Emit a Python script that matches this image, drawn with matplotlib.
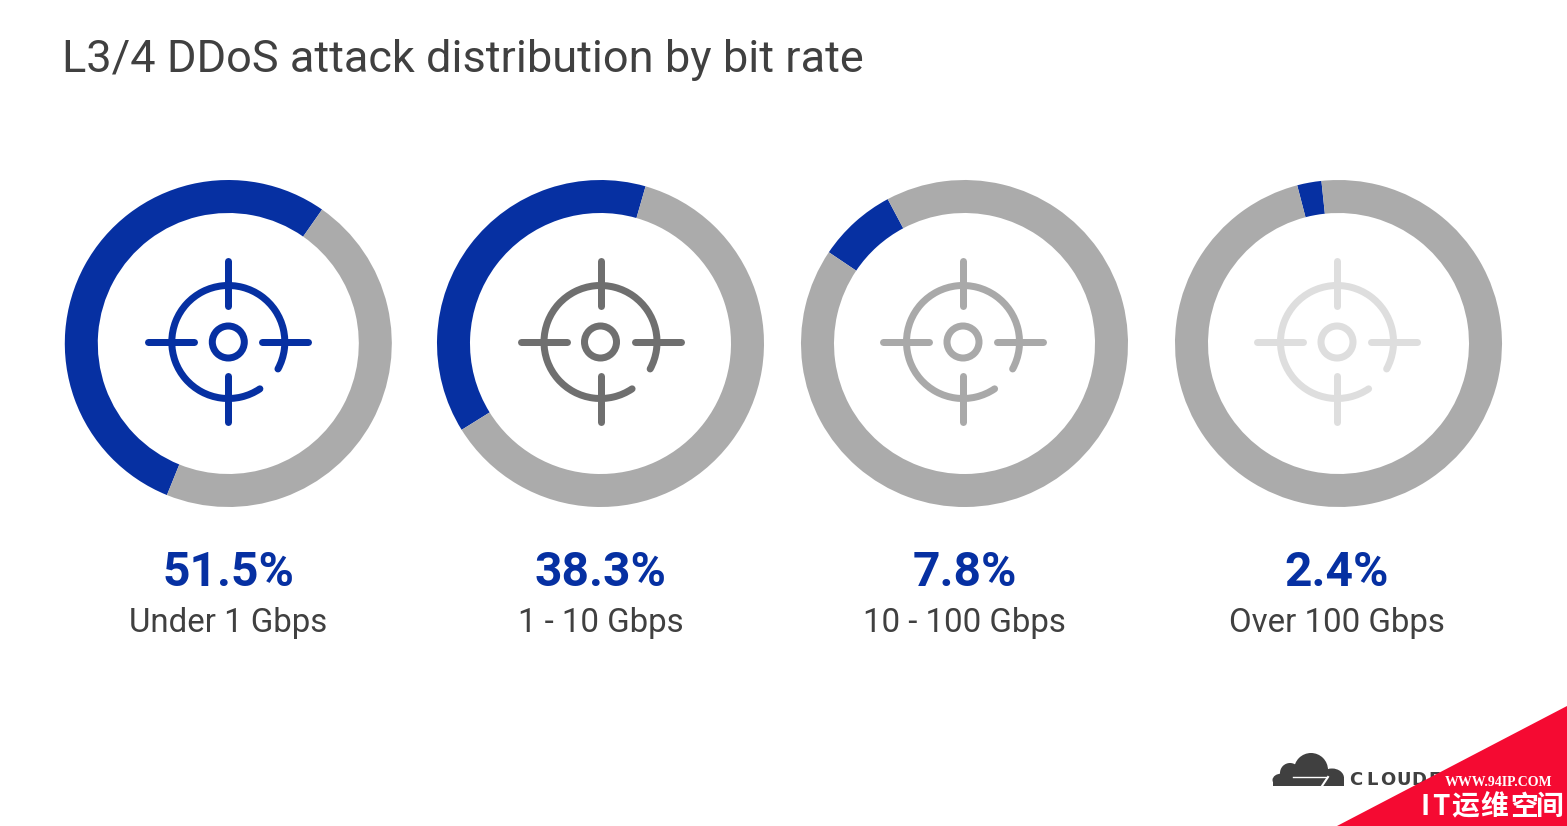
import numpy as np
import matplotlib
matplotlib.use("Agg")
import matplotlib.pyplot as plt
from matplotlib.patches import Circle, Ellipse, Polygon, Arc, Rectangle

plt.rcParams['font.family'] = ['Roboto', 'DejaVu Sans']

W, H = 1567, 826

# values
labels = ["Under 1 Gbps", "1 - 10 Gbps", "10 - 100 Gbps", "Over 100 Gbps"]
pct_text = ["51.5%", "38.3%", "7.8%", "2.4%"]
arc_share = [53.6, 38.3, 7.8, 2.4]  # the first arc is drawn a bit longer than its label
start_angle = [55, 74, 118, 96]
icon_color = ["#0630a2", "#6f6f6f", "#a9a9a9", "#dedede"]
center_x = [228.3, 600.5, 964.5, 1338.5]
icon_x = [228.3, 600.5, 963, 1337]
label_x = [228.3, 600.5, 964.5, 1337]

BLUE = "#0630a2"
GRAY = "#ababab"
TEXT = "#404040"
center_y = 343.5
R = 163.5

fig = plt.figure(figsize=(W / 100, H / 100), dpi=100, facecolor="white")

# donuts, each one in its own little axes
for i in range(4):
    cx = center_x[i]
    ax = fig.add_axes([(cx - R) / W, 1 - (center_y + R) / H, 2 * R / W, 2 * R / H])
    ax.pie([arc_share[i], 100 - arc_share[i]], colors=[BLUE, GRAY],
           startangle=start_angle[i], radius=1,
           wedgeprops=dict(width=33 / R, linewidth=0))
    ax.set_xlim(-1, 1)
    ax.set_ylim(-1, 1)
    ax.axis("off")

# overlay in pixel coordinates for text, icons and the corner stuff
px = fig.add_axes([0, 0, 1, 1], facecolor="none")
px.set_xlim(0, W)
px.set_ylim(H, 0)
px.axis("off")

px.text(62, 60, "L3/4 DDoS attack distribution by bit rate", fontsize=32.5,
        color=TEXT, ha="left", va="center")


def draw_target(cx, cy, c):
    lw = 7 * 72 / 100
    px.add_patch(Circle((cx, cy), 16, fill=False, ec=c, lw=lw))
    # outer ring has a gap at lower right (y axis is flipped here)
    px.add_patch(Arc((cx, cy), 113, 113, theta1=56, theta2=388.5, ec=c, lw=lw,
                     capstyle="round"))
    for x0, y0, x1, y1 in [(0, -81, 0, -36), (0, 34, 0, 80), (-80, 0, -34, 0), (34, 0, 80, 0)]:
        px.plot([cx + x0, cx + x1], [cy + y0, cy + y1], color=c, lw=lw,
                solid_capstyle="round")


for i in range(4):
    draw_target(icon_x[i], 342, icon_color[i])
    px.text(label_x[i], 573, pct_text[i], fontsize=34.6, fontweight="bold", color=BLUE,
            ha="center", va="center")
    px.text(label_x[i], 623, labels[i], fontsize=23.8, color=TEXT, ha="center", va="center")

# cloudflare logo
LOGO = "#404040"
px.add_patch(Circle((1311, 770), 17, fc=LOGO, lw=0, zorder=3))
px.add_patch(Circle((1290, 773), 10, fc=LOGO, lw=0, zorder=3))
px.add_patch(Ellipse((1282, 780), 19, 13, fc=LOGO, lw=0, zorder=3))
px.add_patch(Ellipse((1332, 778), 24, 19, fc=LOGO, lw=0, zorder=3))
px.add_patch(Rectangle((1273, 779), 71, 7, fc=LOGO, lw=0, zorder=3))
px.add_patch(Rectangle((1270, 786), 90, 14, fc="white", lw=0, zorder=3))
px.plot([1293, 1326], [777, 777], color="white", lw=1, zorder=4)
px.plot([1322, 1328], [786, 777], color="white", lw=1.5, zorder=4)
for k, ch in enumerate("CLOUDF"):
    px.text(1356 + k * 15.8, 780, ch, fontsize=13, fontweight="bold", color=LOGO,
            family="DejaVu Sans", ha="center", va="center", zorder=3)

# red watermark corner
px.add_patch(Polygon([(W, 706), (W, H), (1337, H)], fc="#f50a32", lw=0, zorder=5))
px.text(1499, 782, "WWW.94IP.COM", fontsize=10, fontweight="bold", color="white",
        family="Liberation Serif", ha="center", va="center", zorder=6)
for k, ch in enumerate(["I", "T", "运", "维", "空", "间"]):
    xs = [1425, 1441, 1465, 1494, 1524, 1550][k]
    px.text(xs, 807, ch, fontsize=20, fontweight="bold", color="white",
            family=["Noto Sans CJK SC", "DejaVu Sans"], ha="center", va="center", zorder=6)

fig.savefig("out.png", dpi=100, facecolor="white")
